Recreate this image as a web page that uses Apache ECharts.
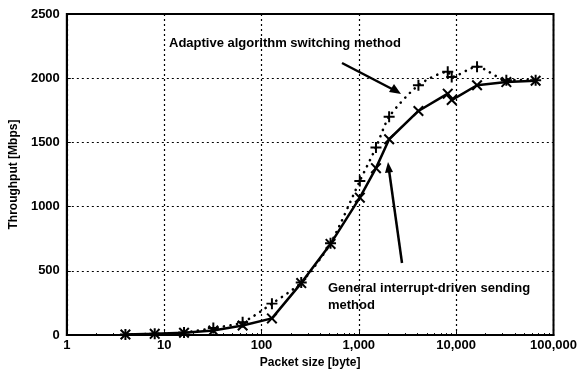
<!DOCTYPE html>
<html><head><meta charset="utf-8">
<script src="https://cdn.jsdelivr.net/npm/echarts@6/dist/echarts.min.js"></script>
<style>html,body{margin:0;padding:0;background:#fff}#c{width:580px;height:374px}</style>
</head><body><div id="c"></div>
<script>
const packetSizes = [4, 8, 16, 32, 64, 128, 256, 512, 1024, 1500, 2048, 4096, 8192, 9000, 16384, 32768, 65536];
const generalThroughput = [5, 10, 18, 35, 75, 130, 405, 710, 1070, 1300, 1525, 1745, 1880, 1830, 1945, 1970, 1980];
const adaptiveThroughput = [5, 10, 20, 55, 100, 245, 410, 715, 1200, 1460, 1700, 1945, 2050, 2010, 2090, 1985, 1985];
const xTickLabels = {1: '1', 10: '10', 100: '100', 1000: '1,000', 10000: '10,000', 100000: '100,000'};
const yTicks = [0, 500, 1000, 1500, 2000, 2500];

const FONT = 'Liberation Sans, Arial, sans-serif';
const X_SYM = 'path://M0,1.3L1.3,0L5,3.7L8.7,0L10,1.3L6.3,5L10,8.7L8.7,10L5,6.3L1.3,10L0,8.7L3.7,5Z';
const P_SYM = 'path://M4.1,0H5.9V4.1H10V5.9H5.9V10H4.1V5.9H0V4.1H4.1Z';

const chart = echarts.init(document.getElementById('c'), null, {renderer: 'canvas'});
chart.setOption({
  animation: false,
  backgroundColor: '#fff',
  grid: {left: 65, right: 25, top: 14, bottom: 32, show: true, borderColor: '#000', borderWidth: 2},
  xAxis: {
    type: 'log', logBase: 10, min: 1, max: 100000,
    name: 'Packet size [byte]', nameLocation: 'middle', nameGap: 18,
    nameTextStyle: {fontFamily: FONT, fontSize: 12, fontWeight: 'bold', color: '#000'},
    axisLine: {lineStyle: {color: '#000', width: 2}},
    axisTick: {inside: true, length: 4, lineStyle: {color: '#000'}},
    minorTick: {show: true, splitNumber: 9, length: 2, lineStyle: {color: '#000'}},
    axisLabel: {fontFamily: FONT, fontSize: 13, fontWeight: 'bold', color: '#000', margin: 4,
      formatter: v => xTickLabels[Math.round(v)] !== undefined ? xTickLabels[Math.round(v)] : ''},
    splitLine: {show: true, lineStyle: {color: '#000', type: [2, 3], width: 1.2}}
  },
  yAxis: {
    type: 'value', min: yTicks[0], max: yTicks[yTicks.length - 1], interval: 500,
    name: 'Throughput [Mbps]', nameLocation: 'middle', nameGap: 41,
    nameTextStyle: {fontFamily: FONT, fontSize: 12, fontWeight: 'bold', color: '#000'},
    axisLine: {show: true, lineStyle: {color: '#000', width: 2}},
    axisTick: {show: true, inside: true, length: 4, lineStyle: {color: '#000'}},
    axisLabel: {fontFamily: FONT, fontSize: 13, fontWeight: 'bold', color: '#000', margin: 7,
      formatter: v => String(v)},
    splitLine: {show: true, lineStyle: {color: '#000', type: [2, 3], width: 1.2}}
  },
  series: [
    {
      name: 'Adaptive algorithm switching method', type: 'line', smooth: 0.25,
      data: packetSizes.map((x, i) => [x, adaptiveThroughput[i]]),
      symbol: P_SYM, symbolSize: 11, showAllSymbol: true,
      itemStyle: {color: '#000'},
      lineStyle: {color: '#000', width: 2.6, type: [0.1, 6.5], cap: 'round'},
      z: 3
    },
    {
      name: 'General interrupt-driven sending method', type: 'line',
      data: packetSizes.map((x, i) => [x, generalThroughput[i]]),
      symbol: X_SYM, symbolSize: 11, showAllSymbol: true,
      itemStyle: {color: '#000'},
      lineStyle: {color: '#000', width: 2.5},
      z: 4
    }
  ],
  graphic: [
    {type: 'text', left: 169, top: 37, style: {text: 'Adaptive algorithm switching method', fill: '#000', font: 'bold 13px ' + FONT}},
    {type: 'line', shape: {x1: 342, y1: 63, x2: 394, y2: 90}, style: {stroke: '#000', lineWidth: 2.5}},
    {type: 'polygon', shape: {points: [[401, 94], [389, 92], [394, 84]]}, style: {fill: '#000'}},
    {type: 'text', left: 328, top: 280, style: {text: 'General interrupt-driven sending\nmethod', fill: '#000', font: 'bold 13px ' + FONT, lineHeight: 17}},
    {type: 'line', shape: {x1: 402, y1: 263, x2: 389, y2: 170}, style: {stroke: '#000', lineWidth: 2.5}},
    {type: 'polygon', shape: {points: [[388, 162], [385, 173], [393, 172]]}, style: {fill: '#000'}}
  ]
});
</script></body></html>
